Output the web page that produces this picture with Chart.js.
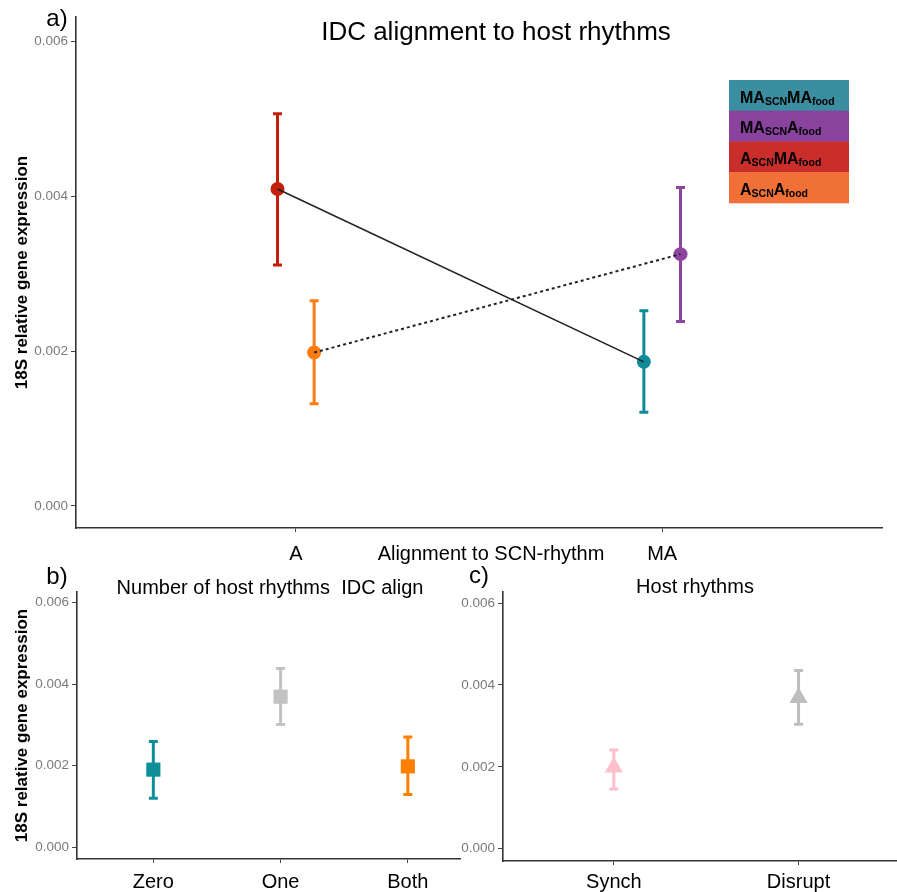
<!DOCTYPE html>
<html>
<head>
<meta charset="utf-8">
<script src="https://cdn.jsdelivr.net/npm/chart.js@4.4.1/dist/chart.umd.min.js"></script>
<style>
  html,body{margin:0;padding:0;background:#fff}
  #wrap{position:relative;width:897px;height:892px;overflow:hidden}
  canvas{position:absolute}
</style>
</head>
<body>
<div id="wrap">
  <canvas id="cA" width="897" height="565" style="left:0;top:0"></canvas>
  <canvas id="cB" width="462" height="327" style="left:0;top:565px"></canvas>
  <canvas id="cC" width="442" height="327" style="left:455px;top:565px"></canvas>
</div>
<script>
'use strict';
// ── panel a: IDC alignment to host rhythms ──
const alignLabels=['A','MA'];
const maFoodMean=[0.00409,0.00186];   // A_SCN MA_food (red), MA_SCN MA_food (teal)
const maFoodLow=[0.00311,0.00121];
const maFoodHigh=[0.00506,0.00252];
const maFoodColors=['#c41f0c','#0f8c99'];
const aFoodMean=[0.00198,0.00325];    // A_SCN A_food (orange), MA_SCN A_food (purple)
const aFoodLow=[0.00132,0.00238];
const aFoodHigh=[0.00265,0.00411];
const aFoodColors=['#ff7c12','#8d45a0'];
const legendNames=[['MA','SCN','MA','food'],['MA','SCN','A','food'],['A','SCN','MA','food'],['A','SCN','A','food']];
const legendColors=['#3a8ea0','#8a429f','#c92e2b','#f07038'];
// ── panel b: number of host rhythms / IDC align ──
const rhythmLabels=['Zero','One','Both'];
const rhythmMean=[0.00190,0.00369,0.00198];
const rhythmLow=[0.00120,0.00301,0.00129];
const rhythmHigh=[0.00259,0.00438,0.00270];
const rhythmColors=['#0e8f9a','#c2c2c2','#ff7f00'];
// ── panel c: host rhythms ──
const hostLabels=['Synch','Disrupt'];
const hostMean=[0.00199,0.00369];
const hostLow=[0.00146,0.00304];
const hostHigh=[0.00241,0.00435];
const hostColors=['#ffc0cb','#bebebe'];
const yTicks=[0,0.002,0.004,0.006];

const FONT="'Liberation Sans', Arial, Helvetica, sans-serif";
Chart.defaults.font.family=FONT;
Chart.defaults.animation=false;

// error bars under the points
const errorBars={
  id:'errorBars',
  beforeDatasetsDraw(chart){
    const ctx=chart.ctx,ys=chart.scales.y;
    chart.data.datasets.forEach((ds,i)=>{
      if(!ds.errLow)return;
      const meta=chart.getDatasetMeta(i);
      meta.data.forEach((pt,j)=>{
        const y1=ys.getPixelForValue(ds.errLow[j]),y2=ys.getPixelForValue(ds.errHigh[j]);
        const w=ds.errCap||4.5;
        ctx.save();ctx.strokeStyle=ds.errColor[j];ctx.lineWidth=ds.errWidth||3;ctx.lineCap='butt';
        ctx.beginPath();
        ctx.moveTo(pt.x,y1);ctx.lineTo(pt.x,y2);
        ctx.moveTo(pt.x-w,y1);ctx.lineTo(pt.x+w,y1);
        ctx.moveTo(pt.x-w,y2);ctx.lineTo(pt.x+w,y2);
        ctx.stroke();ctx.restore();
      });
    });
  }
};
// free text (panel letters, titles)
const texts={
  id:'texts',
  afterDraw(chart,args,opts){
    const ctx=chart.ctx;
    (opts.items||[]).forEach(t=>{
      ctx.save();ctx.font=t.font;ctx.fillStyle=t.color||'#000';
      ctx.textAlign=t.align||'center';ctx.textBaseline='middle';
      ctx.fillText(t.text,t.x,t.y);ctx.restore();
    });
  }
};
// colored legend boxes with subscripts
const boxLegend={
  id:'boxLegend',
  afterDraw(chart){
    const ctx=chart.ctx,x0=729,y0=80,w=120,h=30.7;
    legendNames.forEach((parts,i)=>{
      const top=y0+i*h;
      ctx.save();
      ctx.fillStyle=legendColors[i];ctx.fillRect(x0,top,w,h+0.5);
      ctx.fillStyle='#000';ctx.textBaseline='alphabetic';ctx.textAlign='left';
      let x=x0+11;const base=top+22.5;
      parts.forEach((p,k)=>{
        const sub=k%2===1;
        ctx.font=sub?'bold 10.5px '+FONT:'bold 16px '+FONT;
        ctx.fillText(p,x,sub?base+2:base);
        x+=ctx.measureText(p).width;
      });
      ctx.restore();
    });
  }
};

function yAxis(min,max,width,withTitle){
  return {
    type:'linear',min,max,
    afterBuildTicks:s=>{s.ticks=yTicks.map(v=>({value:v}))},
    afterFit:s=>{s.width=width},
    ticks:{color:'#7a7a7a',font:{size:13.5},padding:3,callback:v=>v.toFixed(3)},
    grid:{drawOnChartArea:false,drawTicks:true,tickLength:5,color:'#444',lineWidth:1},
    border:{display:true,color:'#333',width:1.6},
    title:{display:withTitle,text:'18S relative gene expression',color:'#000',font:{size:17,weight:'bold'},padding:{top:12,bottom:0}}
  };
}
function xAxis(min,max,labels,height,pad){
  return {
    type:'linear',min,max,
    afterBuildTicks:s=>{s.ticks=labels.map((_,i)=>({value:i+1}))},
    afterFit:s=>{s.height=height},
    ticks:{color:'#000',font:{size:20},padding:pad,maxRotation:0,callback:v=>labels[Math.round(v)-1]},
    grid:{drawOnChartArea:false,drawTicks:true,tickLength:4,color:'#444',lineWidth:1},
    border:{display:true,color:'#333',width:1.6}
  };
}
const pts=(mean,offs)=>mean.map((v,i)=>({x:i+1+offs,y:v}));
const dodge=0.05;

new Chart(document.getElementById('cA'),{
  type:'scatter',
  data:{datasets:[
    {data:pts(maFoodMean,-dodge),showLine:true,borderColor:'#222',borderWidth:1.6,pointRadius:0,order:0},
    {data:pts(aFoodMean,dodge),showLine:true,borderColor:'#222',borderWidth:2,borderDash:[3,3],pointRadius:0,order:0},
    {data:pts(maFoodMean,-dodge),pointRadius:7,pointBackgroundColor:maFoodColors,pointBorderWidth:0,
     errLow:maFoodLow,errHigh:maFoodHigh,errColor:maFoodColors,order:1},
    {data:pts(aFoodMean,dodge),pointRadius:7,pointBackgroundColor:aFoodColors,pointBorderWidth:0,
     errLow:aFoodLow,errHigh:aFoodHigh,errColor:aFoodColors,order:1}
  ]},
  options:{
    responsive:false,maintainAspectRatio:false,devicePixelRatio:1,
    layout:{autoPadding:false,padding:{left:0,top:17,right:15,bottom:0}},
    scales:{x:xAxis(0.4,2.6,alignLabels,37,10),y:yAxis(-0.000284,0.00631,76,true)},
    plugins:{legend:{display:false},tooltip:{enabled:false},
      texts:{items:[
        {text:'a)',x:57,y:19,font:'24px '+FONT},
        {text:'IDC alignment to host rhythms',x:496,y:33,font:'26px '+FONT},
        {text:'Alignment to SCN-rhythm',x:491,y:554,font:'20px '+FONT}
      ]}}
  },
  plugins:[errorBars,texts,boxLegend]
});

new Chart(document.getElementById('cB'),{
  type:'scatter',
  data:{datasets:[
    {data:pts(rhythmMean,0),pointStyle:'rect',pointRadius:10,pointBackgroundColor:rhythmColors,pointBorderWidth:0,
     errLow:rhythmLow,errHigh:rhythmHigh,errColor:rhythmColors}
  ]},
  options:{
    responsive:false,maintainAspectRatio:false,devicePixelRatio:1,
    layout:{autoPadding:false,padding:{left:0,top:27,right:2,bottom:0}},
    scales:{x:xAxis(0.4,3.41,rhythmLabels,33,7),y:yAxis(-0.000294,0.00626,77,true)},
    plugins:{legend:{display:false},tooltip:{enabled:false},
      texts:{items:[
        {text:'b)',x:57,y:12,font:'24px '+FONT},
        {text:'Number of host rhythms  IDC align',x:270,y:23,font:'20px '+FONT}
      ]}}
  },
  plugins:[errorBars,texts]
});

new Chart(document.getElementById('cC'),{
  type:'scatter',
  data:{datasets:[
    {data:pts(hostMean,0),pointStyle:'triangle',pointRadius:10.5,pointBackgroundColor:hostColors,pointBorderWidth:0,
     errLow:hostLow,errHigh:hostHigh,errColor:hostColors}
  ]},
  options:{
    responsive:false,maintainAspectRatio:false,devicePixelRatio:1,
    layout:{autoPadding:false,padding:{left:0,top:27,right:0,bottom:0}},
    scales:{x:xAxis(0.4,2.533,hostLabels,31,5),y:yAxis(-0.0003,0.00627,48,false)},
    plugins:{legend:{display:false},tooltip:{enabled:false},
      texts:{items:[
        {text:'c)',x:24,y:11,font:'24px '+FONT},
        {text:'Host rhythms',x:240,y:22,font:'20px '+FONT}
      ]}}
  },
  plugins:[errorBars,texts]
});
</script>
</body>
</html>
